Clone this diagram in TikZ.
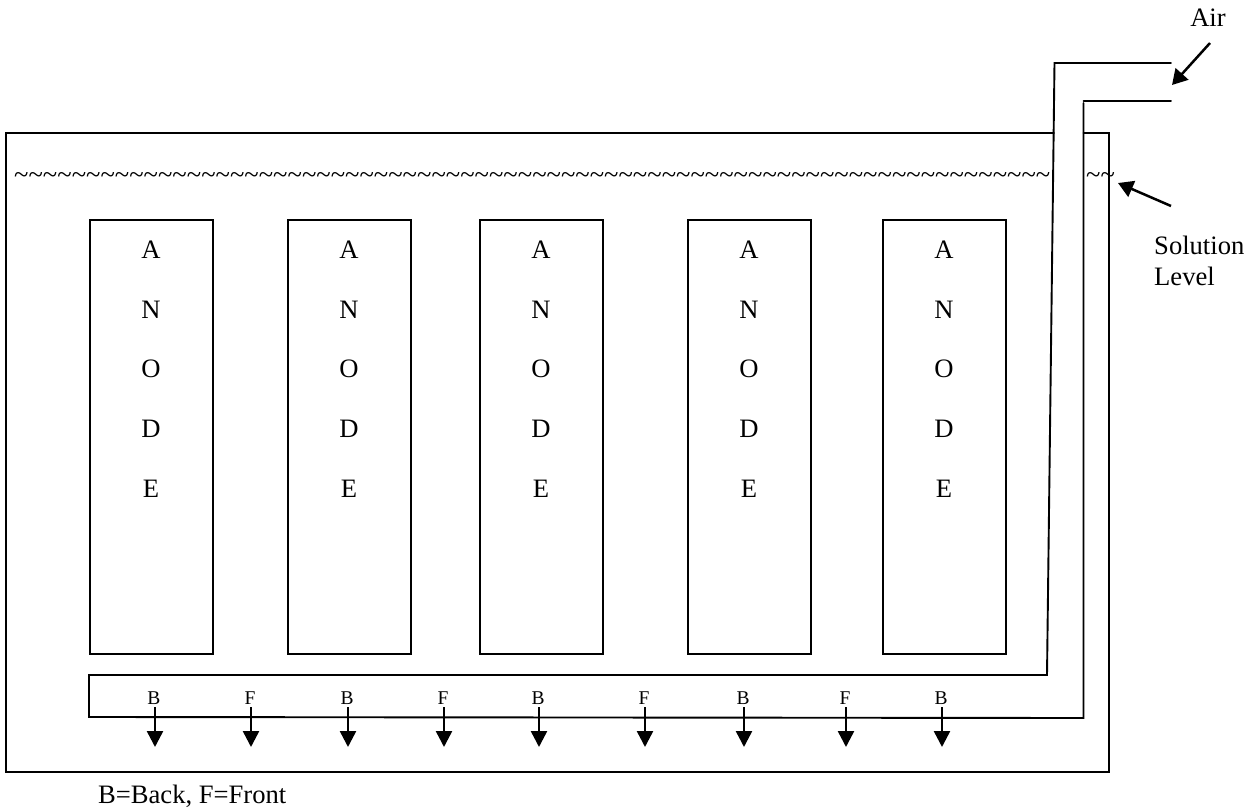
\documentclass[tikz,border=0pt]{standalone}
\usepackage{fontspec}
\setmainfont{Liberation Serif}
\usetikzlibrary{arrows.meta,calc}
\newcommand\tfour{\textasciitilde\textasciitilde\textasciitilde\textasciitilde}
\newcommand\ttwelve{\tfour\tfour\tfour}
\tikzset{
  px/.style={x=1pt,y=-1pt},
  ln/.style={draw=black,line width=1.9pt,line cap=round,line join=miter},
  anodebox/.style={draw=black,line width=1.9pt,minimum width=123pt,minimum height=434pt,inner sep=0pt,outer sep=0pt,anchor=north west},
  lab/.style={font=\fontsize{26.6pt}{30pt}\selectfont,inner sep=0pt},
  small/.style={font=\fontsize{19.5pt}{22pt}\selectfont,inner sep=0pt},
  bigarrow/.style={line width=2.5pt,-{Triangle[length=16pt,width=16pt]}},
  thickarrow/.style={line width=2.5pt,-{Triangle[length=15pt,width=17pt]}},
}
\begin{document}
\begin{tikzpicture}[px]
\useasboundingbox (0,0) rectangle (1259,810);
% tank
\coordinate (t1) at (1054,133);
\coordinate (t2) at (6,133);
\coordinate (t3) at (6,772);
\coordinate (t4) at (1109,772);
\coordinate (t5) at (1109,133);
\coordinate (t6) at (1083.5,133);
\draw[ln] (t1) -- (t2) -- (t3) -- (t4) -- (t5) -- (t6);
% solution level
\node[lab,anchor=west] (lev1) at (14,178) {\ttwelve\ttwelve\ttwelve\ttwelve\ttwelve\ttwelve};
\node[lab,anchor=west] (lev2) at (1086,178) {\textasciitilde\textasciitilde};
% anodes
\foreach \n/\x in {1/90,2/288,3/480,4/688,5/883}{
  \node[anodebox] (box\n) at (\x,220) {};
  \foreach \ch/\y [count=\i] in {A/250,N/310,O/369,D/429,E/489}
    \node[lab] (l\n\i) at ($(\x,\y)+(61,0)$) {\ch};
}
% pipe
\coordinate (p1) at (1171,63);
\coordinate (p2) at (1054.5,63);
\coordinate (p3) at (1047,675);
\coordinate (p4) at (89,675);
\coordinate (p5) at (89,717);
\coordinate (p6) at (1083.5,718);
\coordinate (p7) at (1083.5,103);
\coordinate (p8) at (1083.5,101);
\coordinate (p9) at (1171,101);
\draw[ln] (p1) -- (p2) -- (p3) -- (p4) -- (p5) -- (p6) -- (p7);
\draw[ln] (p8) -- (p9);
% nozzles
\foreach \x/\ch [count=\i] in {155/B,251/F,348/B,444/F,539/B,645/F,744/B,846/F,942/B}{
  \node[small] (n\i) at (\x-1,698) {\ch};
  \coordinate (ns\i) at (\x,707);
  \coordinate (ne\i) at (\x,747);
  \draw[bigarrow] (ns\i) -- (ne\i);
}
% labels
\node[lab] (air) at (1208,18) {Air};
\coordinate (as) at (1210,43);
\coordinate (ae) at (1172,85);
\draw[thickarrow] (as) -- (ae);
\node[lab,anchor=base west] (sol) at (1154,255) {Solution};
\node[lab,anchor=base west] (lvl) at (1154,286) {Level};
\coordinate (ss) at (1171,206);
\coordinate (se) at (1118,183);
\draw[thickarrow] (ss) -- (se);
\node[lab,anchor=base west] (key) at (98,803) {B=Back, F=Front};
\end{tikzpicture}
\end{document}
